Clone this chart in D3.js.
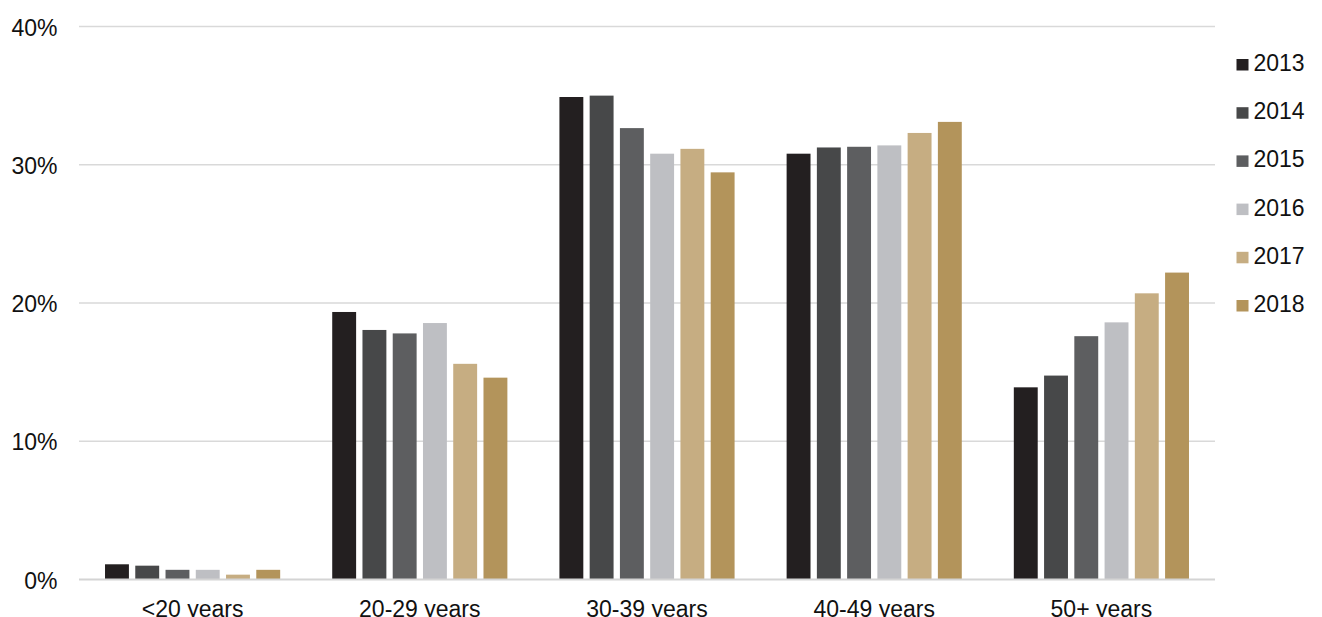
<!DOCTYPE html>
<html>
<head>
<meta charset="utf-8">
<script src="https://cdn.jsdelivr.net/npm/d3@7"></script>
<style>
  html, body { margin: 0; padding: 0; background: #fff; }
  svg { display: block; font-family: "Liberation Sans", Arial, sans-serif; }
</style>
</head>
<body>
<svg id="chart" width="1322" height="617"></svg>
<script>
// Age groups and survey years
const categories = ["<20 years", "20-29 years", "30-39 years", "40-49 years", "50+ years"];
const years = ["2013", "2014", "2015", "2016", "2017", "2018"];

// Share of each age group per year (percent)
const values2013 = [1.1, 19.35, 34.9, 30.8, 13.9];
const values2014 = [1.0, 18.05, 35.0, 31.25, 14.75];
const values2015 = [0.7, 17.8, 32.65, 31.3, 17.6];
const values2016 = [0.7, 18.55, 30.8, 31.4, 18.6];
const values2017 = [0.35, 15.6, 31.15, 32.3, 20.7];
const values2018 = [0.7, 14.6, 29.45, 33.1, 22.2];

const seriesValues = [values2013, values2014, values2015, values2016, values2017, values2018];
const colors = ["#231f20", "#474849", "#5d5e60", "#bebfc3", "#c6ad82", "#b3945b"];

const yTicks = [0, 10, 20, 30, 40];
const yTickLabels = ["0%", "10%", "20%", "30%", "40%"];

const svg = d3.select("#chart");
const plot = { left: 79, right: 1215, top: 26.5, bottom: 579.5 };
const fontSize = 23;

const x0 = d3.scaleBand()
  .domain(categories)
  .range([plot.left, plot.right])
  .padding(0);

const x1 = d3.scaleBand()
  .domain(years)
  .range([0, x0.bandwidth()])
  .paddingInner(0.21)
  .paddingOuter(0.86);

const y = d3.scaleLinear()
  .domain([0, 40])
  .range([plot.bottom, plot.top]);

// Horizontal gridlines
svg.append("g")
  .selectAll("line")
  .data(yTicks.filter(d => d > 0))
  .join("line")
  .attr("x1", plot.left)
  .attr("x2", plot.right)
  .attr("y1", d => y(d))
  .attr("y2", d => y(d))
  .attr("stroke", "#d9d9d9")
  .attr("stroke-width", 1.5);

// Y-axis labels
svg.append("g")
  .selectAll("text")
  .data(yTicks)
  .join("text")
  .attr("x", 57.5)
  .attr("y", d => y(d) + 9)
  .attr("text-anchor", "end")
  .attr("font-size", fontSize)
  .attr("fill", "#111")
  .text((d, i) => yTickLabels[i]);

// Bars
const rows = categories.map((c, ci) => ({
  category: c,
  bars: years.map((yr, si) => ({ year: yr, value: seriesValues[si][ci], color: colors[si] }))
}));

const groups = svg.append("g")
  .selectAll("g")
  .data(rows)
  .join("g")
  .attr("transform", d => `translate(${x0(d.category)},0)`);

groups.selectAll("rect")
  .data(d => d.bars)
  .join("rect")
  .attr("x", d => x1(d.year))
  .attr("width", x1.bandwidth())
  .attr("y", d => y(d.value))
  .attr("height", d => y(0) - y(d.value))
  .attr("fill", d => d.color);

// Baseline at 0%
svg.append("line")
  .attr("x1", plot.left)
  .attr("x2", plot.right)
  .attr("y1", y(0))
  .attr("y2", y(0))
  .attr("stroke", "#d4d4d4")
  .attr("stroke-width", 2);

// Category labels
svg.append("g")
  .selectAll("text")
  .data(categories)
  .join("text")
  .attr("x", d => x0(d) + x0.bandwidth() / 2)
  .attr("y", 616.5)
  .attr("text-anchor", "middle")
  .attr("font-size", fontSize)
  .attr("fill", "#111")
  .text(d => d);

// Legend
const legend = svg.append("g")
  .selectAll("g")
  .data(years)
  .join("g")
  .attr("transform", (d, i) => `translate(1236.5,${59 + i * 48.2})`);

legend.append("rect")
  .attr("width", 12)
  .attr("height", 11.5)
  .attr("fill", (d, i) => colors[i]);

legend.append("text")
  .attr("x", 17)
  .attr("y", 12)
  .attr("font-size", fontSize)
  .attr("fill", "#111")
  .text(d => d);
</script>
</body>
</html>
